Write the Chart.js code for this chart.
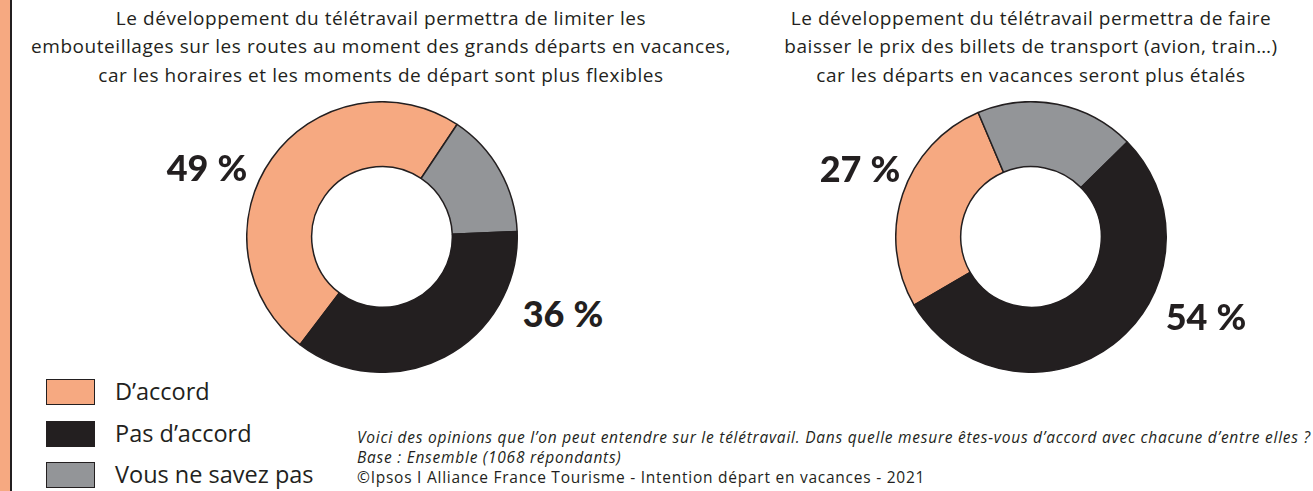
<!DOCTYPE html>
<html lang="fr">
<head>
<meta charset="utf-8">
<script src="https://cdn.jsdelivr.net/npm/chart.js@4.4.1/dist/chart.umd.min.js"></script>
<style>
  html, body { margin: 0; padding: 0; background: #fff; }
  body { width: 1313px; height: 491px; position: relative; overflow: hidden; font-family: "Open Sans", Lato, sans-serif; color: #231f20; }
  #edge { position: absolute; left: 0; top: 0; width: 10px; height: 491px; background: #f6a981; border-right: 2px solid #231f20; }
  .title { position: absolute; top: 4px; width: 800px; text-align: center; font-size: 19px; line-height: 28.3px; letter-spacing: 0.55px; white-space: nowrap; }
  .pie { position: absolute; }
  .pct { position: absolute; font-family: Lato, sans-serif; font-size: 36px; font-weight: 900; transform: translate(-50%, -50%); white-space: nowrap; letter-spacing: -0.5px; }
  #legend { position: absolute; left: 46px; top: 379px; }
  .item { position: relative; height: 41.5px; }
  .swatch { position: absolute; left: 0; top: 0; width: 47px; height: 24px; border: 1.5px solid #231f20; }
  .lab { position: absolute; left: 69px; top: -3px; font-size: 23.5px; line-height: 30px; white-space: nowrap; }
  #notes { position: absolute; left: 357px; top: 427px; font-size: 15.5px; line-height: 20px; letter-spacing: 0.75px; white-space: nowrap; }
  #notes .it { font-style: italic; }
</style>
</head>
<body>
<div id="edge"></div>
<div class="title" id="title0" style="left:-19px"></div>
<div class="title" id="title1" style="left:631px"></div>
<canvas class="pie" id="pie0" width="272" height="272" style="left:246px;top:101px"></canvas>
<canvas class="pie" id="pie1" width="272" height="272" style="left:895px;top:101px"></canvas>
<div id="legend"></div>
<div id="notes"></div>
<script>
// Response categories, in legend order
const categories = ["D’accord", "Pas d’accord", "Vous ne savez pas"];

// Share of respondents (%) for each statement, in category order
const embouteillages = [49, 36, 15];
const prixBillets = [27, 54, 19];

// Statement texts, one line per array entry
const titreEmbouteillages = [
  "Le développement du télétravail permettra de limiter les",
  "embouteillages sur les routes au moment des grands départs en vacances,",
  "car les horaires et les moments de départ sont plus flexibles"
];
const titrePrix = [
  "Le développement du télétravail permettra de faire",
  "baisser le prix des billets de transport (avion, train…)",
  "car les départs en vacances seront plus étalés"
];

const notes = [
  "Voici des opinions que l’on peut entendre sur le télétravail. Dans quelle mesure êtes-vous d’accord avec chacune d’entre elles ?",
  "Base : Ensemble (1068 répondants)",
  "©Ipsos I Alliance France Tourisme - Intention départ en vacances - 2021"
];

// Styling
const palette = ["#f6a981", "#231f20", "#939598"];
const outline = "#231f20";
// Slices are drawn clockwise as: agree, don't know, disagree
const drawOrder = [0, 2, 1];

const panels = [
  { id: "pie0", title: "title0", lines: titreEmbouteillages, values: embouteillages, rotation: 217.3,
    labels: [{ idx: 0, x: 207, y: 167 }, { idx: 1, x: 563, y: 313 }] },
  { id: "pie1", title: "title1", lines: titrePrix, values: prixBillets, rotation: 239.8,
    labels: [{ idx: 0, x: 860, y: 168 }, { idx: 1, x: 1206, y: 316 }] }
];

panels.forEach(p => {
  document.getElementById(p.title).innerHTML = p.lines.join("<br>");
  new Chart(document.getElementById(p.id), {
    type: "doughnut",
    data: {
      labels: drawOrder.map(i => categories[i]),
      datasets: [{
        data: drawOrder.map(i => p.values[i]),
        backgroundColor: drawOrder.map(i => palette[i]),
        borderColor: outline,
        borderWidth: 1.5,
        borderAlign: "center",
        hoverOffset: 0
      }]
    },
    options: {
      responsive: false,
      animation: false,
      rotation: p.rotation,
      cutout: "52%",
      layout: { padding: 0 },
      plugins: { legend: { display: false }, tooltip: { enabled: false } }
    }
  });
  p.labels.forEach(l => {
    const d = document.createElement("div");
    d.className = "pct";
    d.style.left = l.x + "px";
    d.style.top = l.y + "px";
    d.textContent = p.values[l.idx] + "\u202f%";
    document.body.appendChild(d);
  });
});

// Legend
const legend = document.getElementById("legend");
categories.forEach((c, i) => {
  const row = document.createElement("div");
  row.className = "item";
  row.innerHTML = '<div class="swatch" style="background:' + palette[i] + '"></div><div class="lab">' + c + '</div>';
  legend.appendChild(row);
});

// Source notes
const notesEl = document.getElementById("notes");
notes.forEach((n, i) => {
  const d = document.createElement("div");
  if (i < 2) d.className = "it";
  d.textContent = n;
  notesEl.appendChild(d);
});
</script>
</body>
</html>
